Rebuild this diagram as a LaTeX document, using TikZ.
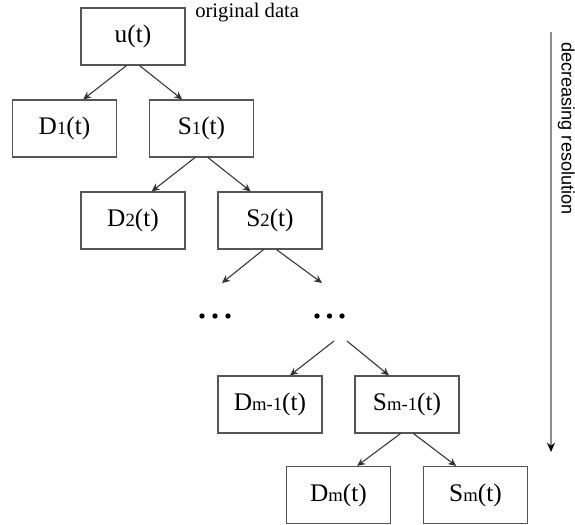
\documentclass[tikz,border=0pt]{standalone}
\usepackage{fontspec}
\setmainfont{Liberation Serif}
\newfontfamily\labelsans{Liberation Sans}
\usetikzlibrary{arrows.meta}
\newcommand{\idx}[1]{{\fontsize{14pt}{14pt}\selectfont #1}}
\definecolor{boxline}{HTML}{555555}
\definecolor{linkline}{HTML}{333333}
\definecolor{axisline}{HTML}{8C8C8C}
\tikzset{
  coef/.style={draw=boxline, line width=0.9pt, minimum width=78pt, minimum height=42.75pt,
    inner sep=0pt, font=\fontsize{19pt}{19pt}\selectfont},
  link/.style={draw=linkline, line width=0.8pt, -{Stealth[length=6pt,width=5.5pt]}},
  dotmark/.style={circle, fill=black, inner sep=0pt, minimum size=4pt},
}
\begin{document}
\begin{tikzpicture}[x=0.75pt, y=-0.75pt]
  \useasboundingbox (0,0) rectangle (575,525);

  % decomposition tree
  \node[coef] (u)   at (133,36.5)   {u(t)};
  \node[coef] (d1)  at (64.5,128.5) {D\idx{1}(t)};
  \node[coef] (s1)  at (201.5,128.5){S\idx{1}(t)};
  \node[coef] (d2)  at (133,220.5)  {D\idx{2}(t)};
  \node[coef] (s2)  at (270,220.5)  {S\idx{2}(t)};
  \node[coef] (dm1) at (270,404.5)  {D\idx{m-1}(t)};
  \node[coef] (sm1) at (407,404.5)  {S\idx{m-1}(t)};
  \node[coef] (dm)  at (338.5,495)  {D\idx{m}(t)};
  \node[coef] (sm)  at (475.5,495)  {S\idx{m}(t)};

  \node[anchor=west, font=\fontsize{15.5pt}{15.5pt}\selectfont, inner sep=0pt] (orig) at (195,13) {original data};

  % ellipsis rows
  \foreach \i/\x in {1/202,2/215,3/228} \node[dotmark] (l\i) at (\x,316) {};
  \foreach \i/\x in {1/317,2/329.5,3/342} \node[dotmark] (r\i) at (\x,316) {};
  \coordinate (dl) at (222,283);
  \coordinate (dr) at (322,283);
  \coordinate (el) at (334,341);
  \coordinate (er) at (347,341);

  % links
  \draw[link] ([xshift=-4.9pt]u.south)   -- ([xshift=14pt]d1.north);
  \draw[link] ([xshift=4.9pt]u.south)    -- ([xshift=-14.5pt]s1.north);
  \draw[link] ([xshift=-4.9pt]s1.south)  -- ([xshift=14pt]d2.north);
  \draw[link] ([xshift=4.9pt]s1.south)   -- ([xshift=-14.5pt]s2.north);
  \draw[link] ([xshift=-4.9pt]s2.south)  -- (dl);
  \draw[link] ([xshift=4.9pt]s2.south)   -- (dr);
  \draw[link] (el) -- ([xshift=15pt]dm1.north);
  \draw[link] (er) -- ([xshift=-13.5pt]sm1.north);
  \draw[link] ([xshift=-4.9pt]sm1.south) -- ([xshift=14pt]dm.north);
  \draw[link] ([xshift=4.9pt]sm1.south)  -- ([xshift=-14.5pt]sm.north);

  % resolution axis
  \coordinate (atop) at (551,32);
  \coordinate (abot) at (551,452);
  \draw[draw=axisline, line width=1.1pt, -{Stealth[length=7pt,width=6pt,color=black]}] (atop) -- (abot);
  \node[rotate=-90, anchor=north west, inner sep=0pt, font=\labelsans\fontsize{13.6pt}{13.6pt}\selectfont] (res) at (575,42) {decreasing resolution};
\end{tikzpicture}
\end{document}
